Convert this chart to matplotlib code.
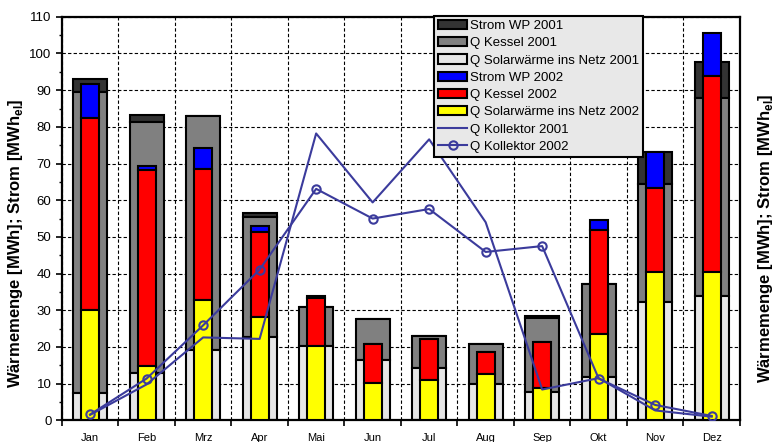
import numpy as np
import matplotlib
matplotlib.use("Agg")
import matplotlib.pyplot as plt
from matplotlib.ticker import MultipleLocator, FixedLocator

plt.rcParams['font.family'] = ['Liberation Sans', 'DejaVu Sans']

months = ["Jan", "Feb", "Mrz", "Apr", "Mai", "Jun", "Jul", "Aug", "Sep", "Okt", "Nov", "Dez"]

# 2001 (MWh)
solar_2001 = [7.4, 12.8, 19.3, 22.6, 20.2, 16.4, 14.4, 9.9, 7.8, 11.7, 32.3, 33.9]
kessel_2001 = [82.1, 68.6, 63.7, 32.9, 10.6, 11.1, 8.7, 10.9, 20.0, 25.6, 32.2, 54.0]
strom_2001 = [3.5, 1.8, 0.0, 1.0, 0.0, 0.0, 0.0, 0.0, 0.7, 0.0, 8.7, 9.8]

# 2002 (MWh)
solar_2002 = [30.2, 14.8, 32.8, 28.1, 20.3, 10.3, 11.0, 12.6, 8.7, 23.5, 40.5, 40.5]
kessel_2002 = [52.3, 53.4, 35.8, 23.3, 13.1, 10.5, 11.1, 6.1, 12.7, 28.3, 22.7, 53.3]
strom_2002 = [9.1, 1.2, 5.7, 1.7, 0.6, 0.0, 0.0, 0.0, 0.0, 2.8, 10.0, 11.9]

kollektor_2001 = [1.5, 9.8, 22.6, 22.2, 78.2, 59.4, 76.6, 54.0, 8.4, 11.5, 2.7, 1.0]
kollektor_2002 = [1.6, 11.4, 25.9, 41.1, 63.1, 55.0, 57.6, 45.9, 47.5, 11.4, 4.2, 1.2]

x = np.arange(len(months))
s01 = np.array(solar_2001)
k01 = np.array(kessel_2001)
s02 = np.array(solar_2002)
k02 = np.array(kessel_2002)

fig = plt.figure(figsize=(7.83, 4.42), dpi=100)
ax = fig.add_axes([0.079, 0.049, 0.866, 0.913])

ec = "black"
lw = 1.5
w1, w2 = 0.6, 0.32
ax.bar(x, strom_2001, w1, bottom=s01 + k01, color="#333333", edgecolor=ec, linewidth=lw, label="Strom WP 2001", zorder=2)
ax.bar(x, kessel_2001, w1, bottom=s01, color="#808080", edgecolor=ec, linewidth=lw, label="Q Kessel 2001", zorder=2)
ax.bar(x, solar_2001, w1, color="#e6e6e6", edgecolor=ec, linewidth=lw, label="Q Solarwärme ins Netz 2001", zorder=2)
ax.bar(x, strom_2002, w2, bottom=s02 + k02, color="#0000ff", edgecolor=ec, linewidth=lw, label="Strom WP 2002", zorder=3)
ax.bar(x, kessel_2002, w2, bottom=s02, color="#ff0000", edgecolor=ec, linewidth=lw, label="Q Kessel 2002", zorder=3)
ax.bar(x, solar_2002, w2, color="#ffff00", edgecolor=ec, linewidth=lw, label="Q Solarwärme ins Netz 2002", zorder=3)

lc = "#3b3b9c"
ax.plot(x, kollektor_2001, color=lc, linewidth=1.5, label="Q Kollektor 2001", zorder=4)
ax.plot(x, kollektor_2002, color=lc, linewidth=1.5, marker="o", markersize=6,
        markerfacecolor="none", markeredgecolor=lc, markeredgewidth=1.5, label="Q Kollektor 2002", zorder=4)

ax.set_xlim(-0.5, 11.5)
ax.set_ylim(0, 110)

# x: ticks on month boundaries, labels at centres
ax.xaxis.set_major_locator(FixedLocator(np.arange(-0.5, 12, 1)))
ax.xaxis.set_minor_locator(FixedLocator(x))
ax.set_xticklabels([])
ax.set_xticklabels(months, minor=True)
ax.tick_params(axis="x", which="major", direction="out", length=4, width=1.2)
ax.tick_params(axis="x", which="minor", length=0, pad=9, labelsize=8)

ax.yaxis.set_major_locator(MultipleLocator(10))
ax.yaxis.set_minor_locator(MultipleLocator(5))
ax.tick_params(axis="y", which="both", direction="out", labelsize=9.5,
               left=True, right=True, labelleft=True, labelright=True)
ax.tick_params(axis="y", which="major", length=4, width=1.2)
ax.tick_params(axis="y", which="minor", length=2, width=1.0)

ax.grid(True, which="major", color="black", linestyle=(0, (3, 2)), linewidth=0.8, zorder=0)
ax.set_axisbelow(True)
for sp in ax.spines.values():
    sp.set_linewidth(1.6)

ylab = "Wärmemenge [MWh]; Strom [MWh$_\\mathregular{el}$]"
ax.set_ylabel(ylab, fontsize=12, fontweight="bold")
ax.yaxis.set_label_coords(-0.055, 0.44)
ax2 = ax.twinx()
ax2.set_ylim(0, 110)
ax2.set_yticks([])
for sp in ax2.spines.values():
    sp.set_visible(False)
ax2.set_ylabel(ylab, fontsize=12, fontweight="bold")
ax2.yaxis.set_label_coords(1.024, 0.45)

handles, labels = ax.get_legend_handles_labels()
order = labels[2:] + labels[:2]
hmap = dict(zip(labels, handles))
leg = ax.legend([hmap[l] for l in order], order, loc="upper left",
                bbox_to_anchor=(0.549, 1.002), fontsize=9.5,
                frameon=True, fancybox=False, edgecolor="black", facecolor="#e8e8e8",
                framealpha=1, handlelength=2.2, handleheight=0.7, handletextpad=0.2,
                labelspacing=0.38, borderpad=0.3, borderaxespad=0)
leg.get_frame().set_linewidth(1.5)
leg.set_zorder(10)

fig.savefig("out.png", dpi=100)
